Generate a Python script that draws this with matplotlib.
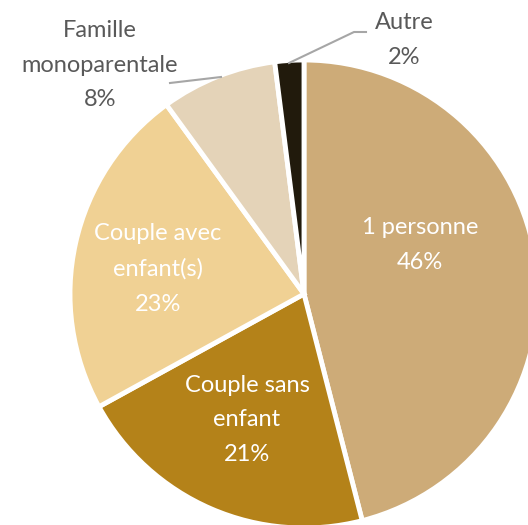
import matplotlib.pyplot as plt

# ------------------------------------------------------------
#  Data
# ------------------------------------------------------------
categories = ["1 personne", "Couple sans\nenfant", "Couple avec\nenfant(s)",
              "Famille\nmonoparentale", "Autre"]
shares = [46, 21, 23, 8, 2]
colors = ["#CDAB78", "#B48219", "#F0D194", "#E4D3B8", "#211A0C"]

W, H = 528, 525
plt.rcParams["font.family"] = ["Lato", "DejaVu Sans"]

fig = plt.figure(figsize=(W / 100, H / 100), dpi=100)
ax = fig.add_axes([0, 0, 1, 1])

cx, cy, r = 304, H - 294, 234
wedges, _ = ax.pie(shares, colors=colors, startangle=90, counterclock=False,
                   center=(cx, cy), radius=r,
                   wedgeprops=dict(edgecolor="white", linewidth=3.5))
ax.set_xlim(0, W)
ax.set_ylim(0, H)
ax.set_aspect("equal")
ax.axis("off")

def lab(i, x, y, color):
    ax.text(x, H - y, f"{categories[i]}\n{shares[i]}%", ha="center", va="center",
            fontsize=17, color=color, fontweight="normal", linespacing=1.8)

lab(0, 420, 245, "white")
lab(1, 247, 420, "white")
lab(2, 158, 269, "white")
lab(3, 100, 65, "#595959")
lab(4, 404, 40, "#595959")

# leader lines
ax.plot([170, 221], [H - 83, H - 77], color="#A6A6A6", lw=1.5)
ax.plot([289, 354, 366], [H - 63, H - 32, H - 32], color="#A6A6A6", lw=1.5)

fig.savefig("out.png", dpi=100)
